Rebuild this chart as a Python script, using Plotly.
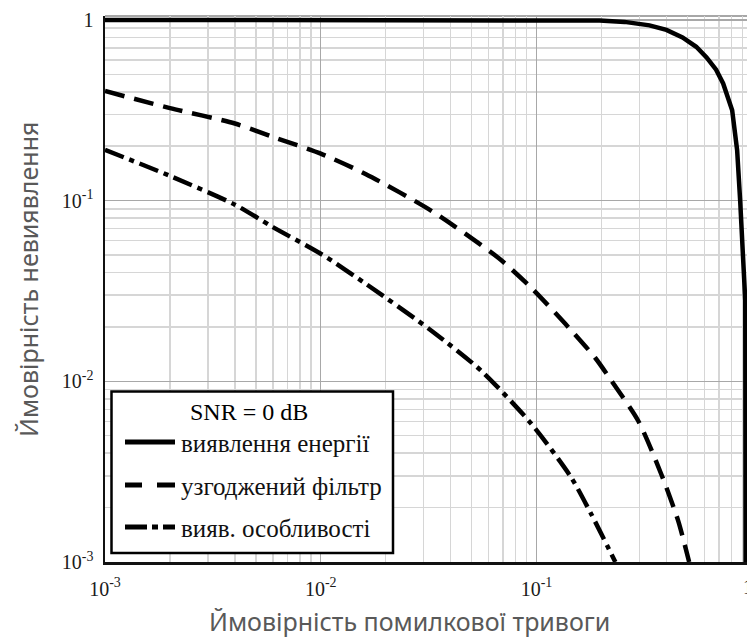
import plotly.graph_objects as go

# ---------------- data ----------------
series_names = ["виявлення енергії", "узгоджений фільтр", "вияв. особливості"]
legend_title = "SNR = 0 dB"
x_title = "Ймовірність помилкової тривоги"
y_title = "Ймовірність невиявлення"

pfa_energy = [0.001, 0.01, 0.05, 0.1, 0.15, 0.196, 0.256, 0.334, 0.40, 0.475, 0.55,
              0.614, 0.68, 0.733, 0.807, 0.851, 0.879, 0.908, 0.928, 0.931]
pmd_energy = [1.0, 1.0, 0.9995, 0.999, 0.997, 0.992, 0.975, 0.933, 0.88, 0.80, 0.71,
              0.62, 0.53, 0.445, 0.316, 0.190, 0.100, 0.053, 0.028, 0.001]

pfa_matched = [0.001, 0.002, 0.004, 0.006, 0.01, 0.0162, 0.0327, 0.0667, 0.0946,
               0.136, 0.187, 0.222, 0.296, 0.378, 0.453, 0.51]
pmd_matched = [0.404, 0.325, 0.267, 0.225, 0.182, 0.140, 0.0875, 0.0481, 0.0329,
               0.0208, 0.0135, 0.0101, 0.00605, 0.00308, 0.0017, 0.001]

pfa_feature = [0.001, 0.002, 0.004, 0.006, 0.01, 0.0162, 0.0327, 0.0556, 0.0946,
               0.145, 0.179, 0.232]
pmd_feature = [0.191, 0.137, 0.095, 0.0713, 0.0508, 0.0346, 0.019, 0.0114, 0.00582,
               0.00293, 0.00185, 0.001]

x_tick_vals = [0.001, 0.01, 0.1]
x_tick_text = ["10<sup>-3</sup>", "10<sup>-2</sup>", "10<sup>-1</sup>"]
y_tick_vals = [0.001, 0.01, 0.1, 1]
y_tick_text = ["10<sup>-3</sup>", "10<sup>-2</sup>", "10<sup>-1</sup>", "1"]
x_last_tick_text = "1"

# ---------------- figure geometry ----------------
W, H = 747, 639
ML, MT = 105, 16
PLOT_BOTTOM = 562
MR, MB = 0, H - PLOT_BOTTOM
PW, PH = W - ML - MR, PLOT_BOTTOM - MT
X_DECADE = 215.75
Y_DECADE = 180.7

SERIF = "Liberation Serif, Times New Roman, serif"
SANS = "Noto Sans, Open Sans, sans-serif"

line_styles = [
    dict(color="black", width=4.5, dash="solid", shape="linear"),
    dict(color="black", width=4.5, dash="20px,10px", shape="spline", smoothing=0.7),
    dict(color="black", width=4.5, dash="20px,6px,5px,6px", shape="spline", smoothing=0.7),
]
legend_dashes = ["solid", "17px,15px,18px", "22px,5px,6px,5px,12px"]

fig = go.Figure()
for xs, ys, nm, st in zip([pfa_energy, pfa_matched, pfa_feature],
                          [pmd_energy, pmd_matched, pmd_feature],
                          series_names, line_styles):
    fig.add_trace(go.Scatter(x=xs, y=ys, mode="lines", name=nm, line=st,
                             showlegend=False, hoverinfo="skip"))

def minor_vals(lo, hi):
    out = []
    for e in range(lo, hi):
        for k in range(2, 10):
            out.append(k * 10 ** e)
    return out

x_range = [-3, -3 + PW / X_DECADE]
y_range = [-3, -3 + PH / Y_DECADE]

common_axis = dict(
    type="log", tickmode="array",
    tickfont=dict(family=SERIF, size=20, color="#1a1a1a"),
    showgrid=True, gridcolor="#a8a8a8", gridwidth=1.2,
    minor=dict(tickmode="array", tickvals=minor_vals(-3, 0), showgrid=True,
               gridcolor="#d6d6d6", gridwidth=1.5, ticks=""),
    showline=True, linecolor="#111", linewidth=2.5, zeroline=False,
)
fig.update_xaxes(range=x_range, tickvals=x_tick_vals, ticktext=x_tick_text,
                 ticks="", ticklabelstandoff=7, **common_axis)
fig.update_yaxes(range=y_range, tickvals=y_tick_vals, ticktext=y_tick_text,
                 ticks="outside", ticklen=5, tickcolor="rgba(0,0,0,0)", **common_axis)

def fx(px):  # window pixel x -> paper x
    return (px - ML) / PW

def fy(py):  # window pixel y -> paper y
    return (PLOT_BOTTOM - py) / PH

shapes = [dict(type="line", xref="paper", yref="paper", x0=0, x1=1, y0=1, y1=1,
               line=dict(color="#8a8a8a", width=1.5), layer="below"),
          dict(type="rect", xref="paper", yref="paper",
               x0=fx(111.5), x1=fx(393), y0=fy(553), y1=fy(391.5),
               fillcolor="white", line=dict(color="black", width=2.5), layer="above")]

annotations = [dict(xref="paper", yref="paper", x=fx(249), y=fy(412),
                    text=legend_title, showarrow=False, xanchor="center", yanchor="middle",
                    font=dict(family=SERIF, size=24, color="black"))]
legend_rows_py = [442, 485, 527]
for nm, dsh, py in zip(series_names, legend_dashes, legend_rows_py):
    shapes.append(dict(type="line", xref="paper", yref="paper",
                       x0=fx(125), x1=fx(175), y0=fy(py), y1=fy(py),
                       line=dict(color="black", width=5, dash=dsh), layer="above"))
    annotations.append(dict(xref="paper", yref="paper", x=fx(179), y=fy(py + 1),
                            text=nm, showarrow=False, xanchor="left", yanchor="middle",
                            font=dict(family=SERIF, size=25, color="#111")))

# partially visible last x tick label "1"
annotations.append(dict(xref="paper", yref="paper", x=fx(748), y=fy(587),
                        text=x_last_tick_text, showarrow=False, xanchor="center",
                        yanchor="middle", font=dict(family=SERIF, size=20, color="#1a1a1a")))
# axis titles
annotations.append(dict(xref="paper", yref="paper", x=fx(409), y=fy(621),
                        text=x_title, showarrow=False, xanchor="center", yanchor="middle",
                        font=dict(family=SANS, size=25, color="#595959")))
annotations.append(dict(xref="paper", yref="paper", x=fx(28), y=fy(280),
                        text=y_title, showarrow=False, xanchor="center", yanchor="middle",
                        textangle=-90, font=dict(family=SANS, size=25, color="#595959")))

fig.update_layout(
    width=W, height=H,
    margin=dict(l=ML, r=MR, t=MT, b=MB, autoexpand=False),
    paper_bgcolor="white", plot_bgcolor="white",
    showlegend=False, hovermode=False,
    shapes=shapes, annotations=annotations,
)

# remove the default 8px page margin so the figure fills the window exactly
page_css = "document.body.style.margin='0';document.body.style.overflow='hidden';"
fig.write_html("out.html", post_script=page_css,
               config={"displayModeBar": False, "staticPlot": True})
